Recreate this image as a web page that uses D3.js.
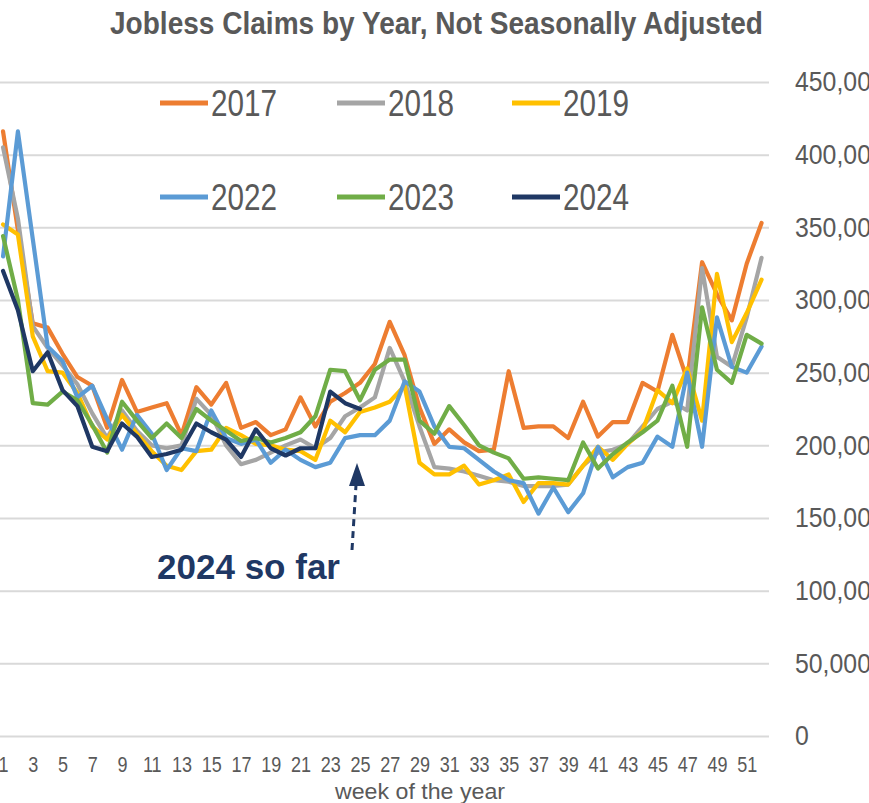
<!DOCTYPE html>
<html>
<head>
<meta charset="utf-8">
<script src="https://d3js.org/d3.v7.min.js"></script>
<style>
  body { margin: 0; background: #fff; }
  svg { display: block; }
  .grid line { stroke: #d9d9d9; stroke-width: 2; }
  .grid path, .yaxis path, .xaxis path { display: none; }
  .series { fill: none; stroke-width: 4.2; stroke-linejoin: round; stroke-linecap: round; }
</style>
</head>
<body>
<svg id="chart" width="869" height="803"></svg>
<script>
// weekly claims, in thousands
var weeks = d3.range(1, 53);
var tickWeeks = weeks.filter(function(w) { return w % 2 == 1; });
var yTicks = [0, 50000, 100000, 150000, 200000, 250000, 300000, 350000, 400000, 450000];
var years = ["2017", "2018", "2019", "2022", "2023", "2024"];
var colors = ["#ed7d31", "#a5a5a5", "#ffc000", "#5b9bd5", "#70ad47", "#1f3864"];

var y2017 = [416, 348, 284, 281, 263, 247, 241, 212, 245, 223, 226, 229, 207, 240, 228, 243, 212, 216, 207, 211,
             233, 213, 230, 236, 243, 256, 285, 262, 226, 201, 211, 202, 196, 197, 251, 212, 213, 213, 205, 230,
             206, 216, 216, 243, 237, 276, 245, 326, 304, 286, 325, 353];
var y2018 = [405, 356, 282, 267, 255, 242, 222, 205, 224, 210, 200, 198, 200, 232, 221, 200, 187, 190, 195, 200,
             204, 198, 205, 220, 226, 233, 267, 244, 213, 185, 184, 182, 179, 176, 175, 172, 172, 172, 173, 186,
             195, 197, 201, 213, 225, 230, 224, 322, 261, 254, 288, 329];
var y2019 = [352, 345, 275, 251, 250, 236, 213, 204, 221, 208, 196, 186, 183, 196, 197, 212, 207, 201, 200, 197,
             196, 190, 217, 209, 223, 226, 230, 241, 188, 180, 180, 186, 173, 176, 180, 161, 174, 174, 173, 186,
             199, 190, 201, 210, 238, 229, 253, 217, 318, 271, 291, 314];
var y2022 = [330, 416, 342, 268, 258, 233, 241, 218, 197, 221, 208, 183, 198, 196, 224, 205, 201, 204, 188, 197,
             190, 185, 188, 205, 207, 207, 217, 244, 237, 213, 199, 198, 190, 182, 176, 174, 153, 171, 154, 167,
             199, 178, 185, 188, 206, 199, 250, 199, 288, 254, 250, 268];
var y2023 = [344, 300, 229, 228, 237, 231, 214, 195, 230, 217, 205, 215, 205, 225, 217, 210, 203, 205, 202, 205,
             209, 220, 252, 251, 231, 252, 259, 259, 217, 208, 227, 214, 200, 195, 191, 177, 178, 177, 176, 202,
             184, 194, 202, 209, 217, 241, 199, 295, 252, 243, 276, 270];
var y2024 = [320, 293, 251, 264, 238, 227, 199, 196, 215, 206, 192, 194, 197, 215, 209, 204, 192, 211, 198, 193,
             198, 198, 237, 229, 225];

var seriesValues = [y2017, y2018, y2019, y2022, y2023, y2024];
var FONT = "'Liberation Sans', Arial, sans-serif";
var TEXT = "#595959";

var svg = d3.select("#chart");

var x = d3.scalePoint().domain(weeks).range([-4.4, 769]).padding(0.5);
var y = d3.scaleLinear().domain([0, 450000]).range([736, 82]);

// gridlines
svg.append("g")
    .attr("class", "grid")
    .attr("transform", "translate(-4.4,0)")
    .call(d3.axisRight(y).tickValues(yTicks).tickSize(773.4).tickFormat(""));

// value labels on the right (cut at the edge, as in the original)
var ya = svg.append("g")
    .attr("class", "yaxis")
    .attr("transform", "translate(795,0)")
    .call(d3.axisRight(y).tickValues(yTicks).tickSize(0).tickPadding(0).tickFormat(d3.format(",")));
ya.selectAll("text")
    .attr("font-family", FONT).attr("font-size", 27).attr("fill", TEXT)
    .attr("dy", "0.33em")
    .attr("transform", "scale(0.92,1)");

// week labels
var xa = svg.append("g")
    .attr("class", "xaxis")
    .attr("transform", "translate(0,755)")
    .call(d3.axisBottom(x).tickValues(tickWeeks).tickSize(0).tickPadding(0));
xa.selectAll("text")
    .attr("font-family", FONT).attr("font-size", 22).attr("fill", TEXT)
    .attr("dy", "0.75em")
    .attr("transform", "scale(0.82,1)");

svg.append("text")
    .attr("x", 420).attr("y", 799)
    .attr("text-anchor", "middle")
    .attr("font-family", FONT).attr("font-size", 22).attr("fill", TEXT)
    .attr("textLength", 170).attr("lengthAdjust", "spacingAndGlyphs")
    .text("week of the year");

// lines
var line = d3.line()
    .x(function(d, i) { return x(weeks[i]); })
    .y(function(d) { return y(d * 1000); });

svg.selectAll("path.series")
    .data(seriesValues)
  .enter()
    .append("path")
    .attr("class", "series")
    .attr("stroke", function(d, i) { return colors[i]; })
    .attr("d", line);

// title
svg.append("text")
    .attr("x", 110).attr("y", 34)
    .attr("font-family", FONT).attr("font-size", 32).attr("font-weight", "bold").attr("fill", TEXT)
    .attr("textLength", 653).attr("lengthAdjust", "spacingAndGlyphs")
    .text("Jobless Claims by Year, Not Seasonally Adjusted");

// legend, 3 per row
var legCols = [160, 337, 512];
var legRows = [103, 197];
var leg = svg.selectAll("g.leg")
    .data(years)
  .enter()
    .append("g")
    .attr("class", "leg")
    .attr("transform", function(d, i) {
        return "translate(" + legCols[i % 3] + "," + legRows[Math.floor(i / 3)] + ")";
    });
leg.append("line")
    .attr("x1", 0).attr("x2", 48)
    .attr("stroke", function(d, i) { return colors[i]; })
    .attr("stroke-width", 5);
leg.append("text")
    .attr("x", 51).attr("y", 13)
    .attr("font-family", FONT).attr("font-size", 36).attr("fill", TEXT)
    .attr("textLength", 66).attr("lengthAdjust", "spacingAndGlyphs")
    .text(function(d) { return d; });

// annotation
svg.append("text")
    .attr("x", 157).attr("y", 579)
    .attr("font-family", FONT).attr("font-size", 35).attr("font-weight", "bold").attr("fill", "#1f3864")
    .attr("textLength", 183).attr("lengthAdjust", "spacingAndGlyphs")
    .text("2024 so far");

svg.append("line")
    .attr("x1", 352).attr("y1", 550)
    .attr("x2", 356).attr("y2", 485)
    .attr("stroke", "#1f3864").attr("stroke-width", 3)
    .attr("stroke-dasharray", "7,5");
svg.append("path")
    .attr("d", "M357,463 L365,486 L349,486 Z")
    .attr("fill", "#1f3864");
</script>
</body>
</html>
